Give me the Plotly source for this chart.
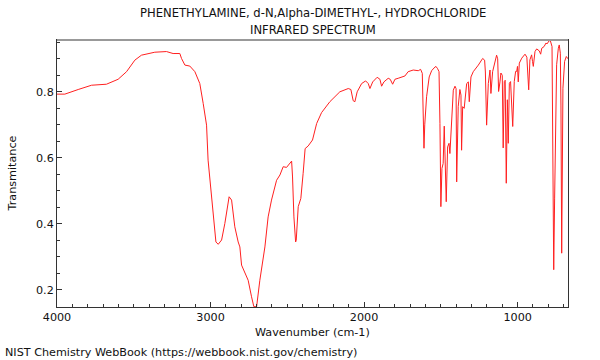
import plotly.graph_objects as go

wavenumber = [4000, 3949, 3862, 3775, 3678, 3602, 3547, 3493, 3450, 3363, 3287, 3244, 3200, 3189, 3167, 3135, 3102, 3070,
              3048, 3026, 3016, 2983, 2965, 2950, 2928, 2907, 2879, 2863, 2842, 2820, 2809, 2798, 2777, 2755, 2733, 2718,
              2700, 2679, 2646, 2625, 2603, 2570, 2548, 2527, 2505, 2494, 2472, 2466, 2457, 2446, 2442, 2429, 2412, 2397,
              2384, 2364, 2336, 2309, 2277, 2223, 2158, 2103, 2086, 2071, 2060, 2045, 2016, 1990, 1973, 1962, 1944, 1915,
              1897, 1886, 1871, 1843, 1830, 1814, 1799, 1778, 1756, 1734, 1713, 1680, 1647, 1632, 1621, 1615, 1610, 1605,
              1593, 1576, 1560, 1545, 1532, 1521, 1512, 1506, 1500, 1493, 1485, 1478, 1472, 1465, 1456, 1447, 1441, 1430,
              1419, 1408, 1401, 1397, 1387, 1376, 1369, 1365, 1358, 1348, 1332, 1321, 1315, 1304, 1289, 1256, 1228, 1215,
              1210, 1202, 1191, 1180, 1174, 1163, 1148, 1137, 1130, 1124, 1115, 1109, 1100, 1094, 1087, 1081, 1074, 1067,
              1061, 1054, 1046, 1039, 1036, 1032, 1022, 1013, 1006, 1001, 996, 989, 973, 952, 940, 935, 928, 920, 909,
              903, 898, 887, 876, 859, 850, 843, 828, 815, 809, 794, 787, 776, 772, 765, 759, 752, 746, 735, 729, 722,
              718, 713, 710, 705, 694, 683, 672]
transmittance = [0.793, 0.793, 0.807, 0.820, 0.823, 0.838, 0.861, 0.896, 0.911, 0.920, 0.922, 0.916, 0.916, 0.901, 0.881, 0.878, 0.861, 0.825,
                 0.765, 0.699, 0.593, 0.421, 0.345, 0.338, 0.351, 0.401, 0.482, 0.472, 0.391, 0.345, 0.330, 0.275, 0.255, 0.229, 0.179, 0.149,
                 0.149, 0.229, 0.330, 0.421, 0.472, 0.532, 0.548, 0.573, 0.571, 0.578, 0.590, 0.542, 0.421, 0.345, 0.350, 0.452, 0.477, 0.553,
                 0.628, 0.636, 0.654, 0.704, 0.737, 0.770, 0.800, 0.810, 0.807, 0.773, 0.770, 0.800, 0.825, 0.833, 0.825, 0.810, 0.830, 0.844,
                 0.838, 0.817, 0.830, 0.841, 0.838, 0.823, 0.838, 0.841, 0.844, 0.848, 0.861, 0.866, 0.864, 0.868, 0.856, 0.724, 0.629, 0.700,
                 0.785, 0.845, 0.864, 0.872, 0.877, 0.870, 0.861, 0.704, 0.452, 0.568, 0.583, 0.696, 0.573, 0.467, 0.633, 0.644, 0.613, 0.704,
                 0.805, 0.817, 0.810, 0.527, 0.755, 0.807, 0.790, 0.623, 0.755, 0.750, 0.825, 0.830, 0.770, 0.845, 0.861, 0.881, 0.901, 0.896,
                 0.860, 0.699, 0.825, 0.866, 0.795, 0.861, 0.896, 0.911, 0.900, 0.801, 0.830, 0.857, 0.850, 0.630, 0.831, 0.835, 0.523, 0.776,
                 0.644, 0.826, 0.831, 0.766, 0.770, 0.695, 0.831, 0.862, 0.862, 0.877, 0.830, 0.887, 0.902, 0.914, 0.905, 0.862, 0.806, 0.897, 0.912,
                 0.892, 0.877, 0.922, 0.930, 0.924, 0.914, 0.932, 0.937, 0.948, 0.945, 0.955, 0.955, 0.937, 0.761, 0.261, 0.478, 0.760, 0.882, 0.932, 0.942, 0.917,
                 0.760, 0.311, 0.500, 0.811, 0.892, 0.907, 0.900]

title_lines = ["PHENETHYLAMINE, d-N,Alpha-DIMETHYL-, HYDROCHLORIDE", "INFRARED SPECTRUM"]
x_title = "Wavenumber (cm-1)"
y_title = "Transmitance"
footer = "NIST Chemistry WebBook (https://webbook.nist.gov/chemistry)"

FONT = "DejaVu Sans"
AXIS = "#333333"
FS = 11.2

fig = go.Figure()
fig.add_trace(go.Scatter(x=wavenumber, y=transmittance, mode="lines",
                         line=dict(color="#ff2020", width=1), showlegend=False, hoverinfo="skip"))

fig.update_layout(
    width=600, height=360,
    margin=dict(l=57, r=32, t=40, b=53),
    paper_bgcolor="white", plot_bgcolor="white",
    font=dict(family=FONT, size=FS, color="#111111"),
    showlegend=False,
)
fig.update_xaxes(
    range=[4000, 672], tick0=0, dtick=1000, ticks="inside", ticklen=5, tickcolor=AXIS,
    showline=True, linecolor=AXIS, linewidth=1, mirror=True, showgrid=False, zeroline=False,
    minor=dict(dtick=100, tick0=0, ticks="inside", ticklen=3, tickcolor=AXIS),
    tickfont=dict(family=FONT, size=FS),
)
fig.update_yaxes(
    range=[0.148, 0.957], tick0=0, dtick=0.2, ticks="inside", ticklen=5, tickcolor=AXIS,
    showline=True, linecolor=AXIS, linewidth=1, mirror=True, showgrid=False, zeroline=False,
    minor=dict(dtick=0.05, tick0=0, ticks="inside", ticklen=3, tickcolor=AXIS),
    tickformat=".1f", tickfont=dict(family=FONT, size=FS),
)
# grey top frame
fig.add_shape(type="line", xref="paper", yref="paper", x0=0, x1=1, y0=1, y1=1,
              line=dict(color="#999999", width=2))

ann = [
    dict(text=title_lines[0], x=0.5, y=13, size=11.6),
    dict(text=title_lines[1], x=0.5, y=30, size=11.6),
]
for a in ann:
    fig.add_annotation(text=a["text"], xref="paper", yref="paper", x=a["x"],
                       y=1 + (40 - a["y"]) / 267, showarrow=False, xanchor="center", yanchor="middle",
                       font=dict(family=FONT, size=a["size"], color="#111111"))
fig.add_annotation(text=x_title, xref="paper", yref="paper", x=0.5, y=-(332 - 307) / 267,
                   showarrow=False, xanchor="center", yanchor="middle", font=dict(family=FONT, size=FS))
fig.add_annotation(text=y_title, xref="paper", yref="paper", x=-(57 - 12) / 511, y=0.5,
                   textangle=-90, showarrow=False, xanchor="center", yanchor="middle", font=dict(family=FONT, size=FS))
fig.add_annotation(text=footer, xref="paper", yref="paper", x=-(57 - 3) / 511, y=-(352 - 307) / 267,
                   showarrow=False, xanchor="left", yanchor="middle", font=dict(family=FONT, size=FS))

fig.write_html("out.html", config={"displayModeBar": False},
               post_script="document.body.style.margin='0px';document.body.style.overflow='hidden';")
